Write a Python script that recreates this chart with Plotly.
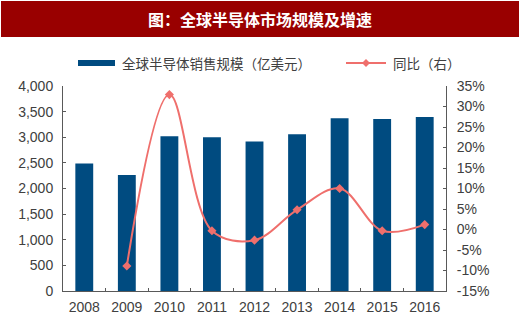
import plotly.graph_objects as go

years = ["2008", "2009", "2010", "2011", "2012", "2013", "2014", "2015", "2016"]
sales = [2486, 2263, 3019, 2999, 2915, 3057, 3370, 3356, 3395]
growth_years = ["2009", "2010", "2011", "2012", "2013", "2014", "2015", "2016"]
growth = [-8.9, 32.9, -0.3, -2.6, 4.8, 10.0, -0.3, 1.2]

left_ticks = [0, 500, 1000, 1500, 2000, 2500, 3000, 3500, 4000]
left_labels = ["0", "500", "1,000", "1,500", "2,000", "2,500", "3,000", "3,500", "4,000"]
right_ticks = [-15, -10, -5, 0, 5, 10, 15, 20, 25, 30, 35]
right_labels = [f"{v}%" for v in right_ticks]

title_text = "图：全球半导体市场规模及增速"
bar_name = "全球半导体销售规模（亿美元）"
line_name = "同比（右）"

BAR = "#004B80"
LINE = "#EF6F6C"
TXT = "#404040"
W, H = 520, 327
L, R, T, B = 63, 74, 86, 36

fig = go.Figure()
fig.add_trace(go.Bar(x=years, y=sales, marker=dict(color=BAR, line=dict(width=0)),
                     width=0.42, name=bar_name, showlegend=False))
fig.add_trace(go.Scatter(x=growth_years, y=growth, yaxis="y2", mode="lines+markers",
                         line=dict(color=LINE, width=2, shape="spline", smoothing=1.0),
                         marker=dict(symbol="diamond", size=7, color=LINE),
                         name=line_name, showlegend=False))

axis_font = dict(family="Liberation Sans, Arial", size=14, color=TXT)
fig.update_layout(
    width=W, height=H,
    margin=dict(l=L, r=R, t=T, b=B),
    paper_bgcolor="white", plot_bgcolor="white",
    xaxis=dict(type="category", range=[-0.5, 8.5], showline=True, linecolor="#595959", linewidth=1,
               ticks="inside", ticklen=3, tickcolor="#595959", tickson="boundaries",
               tickfont=axis_font, showgrid=False, zeroline=False, ticklabelstandoff=3),
    yaxis=dict(range=[0, 4000], tickvals=left_ticks, ticktext=left_labels, showline=True,
               linecolor="#595959", linewidth=1, ticks="inside", ticklen=3, tickcolor="#595959",
               tickfont=axis_font, showgrid=False, zeroline=False, ticklabelstandoff=6),
    yaxis2=dict(range=[-15, 35], tickvals=right_ticks, ticktext=right_labels, overlaying="y",
                side="right", showline=True, linecolor="#595959", linewidth=1, ticks="inside",
                ticklen=3, tickcolor="#595959", tickfont=axis_font, showgrid=False, zeroline=False,
                ticklabelstandoff=7),
    showlegend=False,
)

def px_x(x):
    return (x - L) / (W - L - R)

def px_y(y):
    return (H - B - y) / (H - T - B)

# Title bar
fig.add_shape(type="rect", xref="paper", yref="paper",
              x0=px_x(1), x1=px_x(519), y0=px_y(37), y1=px_y(1),
              fillcolor="#990000", line=dict(width=0), layer="below")
fig.add_annotation(text=f"<b>{title_text}</b>", xref="paper", yref="paper",
                   x=px_x(260), y=px_y(19),
                   showarrow=False, xanchor="center", yanchor="middle",
                   font=dict(family="Noto Sans CJK SC", size=16, color="white"))

# Manual legend
ly = 63
fig.add_shape(type="rect", xref="paper", yref="paper", x0=px_x(78), x1=px_x(115),
              y0=px_y(ly + 3), y1=px_y(ly - 3), fillcolor=BAR, line=dict(width=0))
fig.add_annotation(text=bar_name, xref="paper", yref="paper", x=px_x(120), y=px_y(ly),
                   showarrow=False, xanchor="left", yanchor="middle",
                   font=dict(family="Noto Sans CJK SC", size=13.5, color=TXT))
fig.add_shape(type="line", xref="paper", yref="paper", x0=px_x(346), x1=px_x(386),
              y0=px_y(ly), y1=px_y(ly), line=dict(color=LINE, width=2))
fig.add_shape(type="path", xref="paper", yref="paper",
              path=f"M {px_x(362)} {px_y(ly)} L {px_x(366)} {px_y(ly-4)} L {px_x(370)} {px_y(ly)} L {px_x(366)} {px_y(ly+4)} Z",
              fillcolor=LINE, line=dict(width=0))
fig.add_annotation(text=line_name, xref="paper", yref="paper", x=px_x(391), y=px_y(ly),
                   showarrow=False, xanchor="left", yanchor="middle",
                   font=dict(family="Noto Sans CJK SC", size=13.5, color=TXT))

fig.write_html("out.html")
